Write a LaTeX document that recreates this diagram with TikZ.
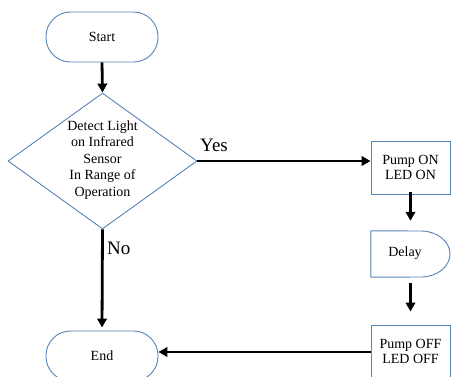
\documentclass[tikz,border=0pt]{standalone}
\usepackage{fontspec}
\setmainfont{Liberation Serif}
\usetikzlibrary{shapes.geometric,arrows.meta}
\definecolor{outl}{RGB}{88,132,182}
\tikzset{
  box/.style={draw=outl, line width=0.9pt, fill=white, inner sep=0pt, align=center, font=\fontsize{14}{15}\selectfont},
  term/.style={box, minimum width=112pt, minimum height=50pt, rounded corners=24.5pt},
  procbox/.style={box, minimum width=79pt, minimum height=53pt},
  lbl/.style={font=\fontsize{14}{15}\selectfont, align=center, inner sep=0pt},
  big/.style={font=\fontsize{19}{21}\selectfont, inner sep=0pt},
  flow/.style={line width=2.8pt, -{Triangle[length=9pt,width=9.5pt]}}
}
\begin{document}
\begin{tikzpicture}[x=1pt,y=-1pt]
\useasboundingbox (0,0) rectangle (451,376);
\clip (0,0) rectangle (451,376);
% nodes
\node[term] (start) at (102,37) {Start};
\node[box, shape=diamond, minimum width=189pt, minimum height=136pt] (dec) at (102.5,161) {};
\node[lbl, font=\fontsize{14}{16.5}\selectfont] (dect) at (102.5,160) {Detect Light\\on Infrared\\Sensor\\In Range of\\Operation};
\node[procbox] (pon) at (410.5,167.5) {Pump ON\\LED ON};
\node[inner sep=0pt, minimum width=79pt, minimum height=46pt] (delay) at (410.5,254) {};
\draw[outl, line width=0.9pt, fill=white] (delay.north west) -- (421,231)
  arc[start angle=-90, end angle=90, x radius=29, y radius=23] -- (delay.south west) -- cycle;
\node[lbl] (delayt) at (405,253) {Delay};
\node[procbox, minimum height=52pt] (poff) at (410.5,351) {Pump OFF\\LED OFF};
\node[term] (end) at (102,356) {End};
% labels
\node[big, anchor=south west] (yes) at (200,152) {Yes};
\node[big, anchor=west] (no) at (107,248) {No};
% connectors
\draw[flow] (start.south) -- (dec.north);
\draw[flow] (dec.east) -- (dec.east -| pon.west);
\draw[flow, shorten >=10pt] ([yshift=2pt]pon.south) -- (delay.north);
\draw[flow, shorten >=13pt, shorten <=6pt] (delay.south) -- (poff.north);
\draw[flow, shorten >=3pt] (dec.south) -- (end.north);
\draw[flow] (poff.west |- 0,352) -- (end.east |- 0,352);
\end{tikzpicture}
\end{document}
